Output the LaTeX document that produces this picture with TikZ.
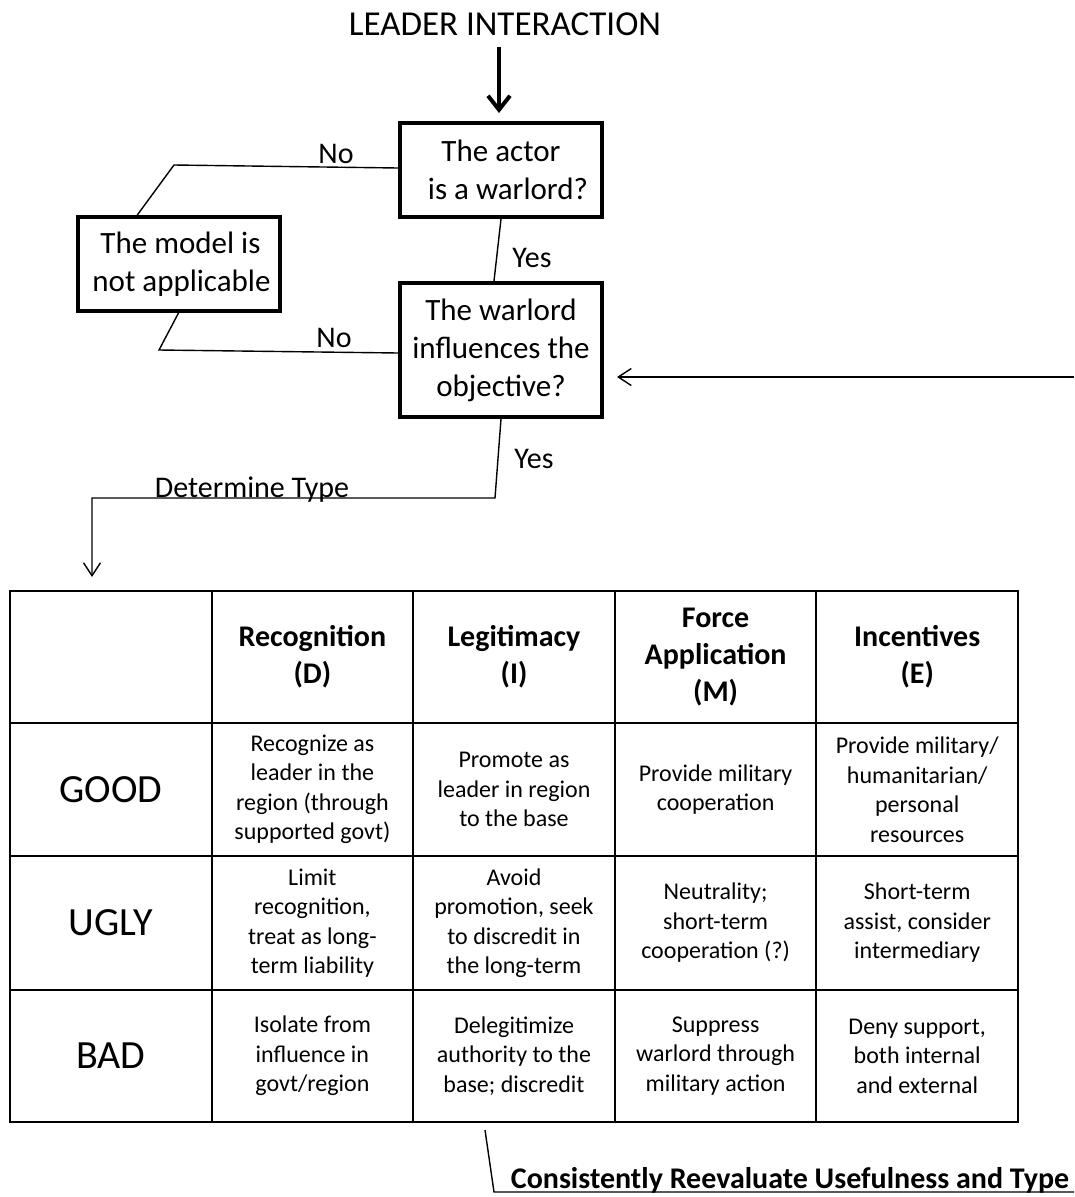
\documentclass[tikz,border=0pt]{standalone}
\usepackage{fontspec}
\setmainfont{Carlito}
\usetikzlibrary{arrows.meta,calc}
\begin{document}
\begin{tikzpicture}[x=1pt,y=-1pt,
  box/.style={draw, line width=4pt, minimum width=202pt, minimum height=94pt, align=center, inner sep=0pt, font=\fontsize{31}{38}\selectfont},
  conn/.style={line width=1.4pt},
  lbl/.style={font=\fontsize{30}{36}\selectfont, inner sep=0pt, anchor=base},
  cellbox/.style={draw, line width=2pt, minimum width=201.6pt, inner sep=0pt, align=center},
  cell/.style={cellbox, font=\fontsize{24}{29.5}\selectfont},
  head/.style={cellbox, minimum height=132pt, font=\bfseries\fontsize{30}{37}\selectfont},
  rowlbl/.style={cellbox, font=\fontsize{40}{48}\selectfont},
  rgood/.style={minimum height=133pt},
  rugly/.style={minimum height=134pt},
  rbad/.style={minimum height=132pt},
  openarrow/.style={-{Straight Barb[length=13pt,width=17pt]}},
  thickarrow/.style={line width=4pt,-{Straight Barb[length=14pt,width=22pt]}}
]
\useasboundingbox (0,0) rectangle (1074,1197);

% title and decision boxes
\node[font=\fontsize{35}{42}\selectfont, inner sep=0pt, anchor=base] (title) at (505,35) {LEADER INTERACTION};
\node[box] (a1) at (501,170) {The actor\\\hspace*{14pt}is a warlord?};
\node[box] (model) at (178.5,264) {\hspace*{4pt}The model is\\\hspace*{6pt}not applicable};
\node[box, minimum height=134pt] (a2) at (501,350) {The warlord\\influences the\\objective?};

% thick arrow from title
\coordinate (tstart) at (499,47);
\draw[thickarrow] (tstart) -- ([yshift=8pt]a1.north -| tstart);

% No branch 1
\coordinate (n1) at (174,165);
\draw[conn] ([yshift=2pt]a1.west) -- (n1) -- ($(model.north west)!0.3!(model.north east)$);
\node[lbl] (no1) at (336,163) {No};

% No branch 2
\coordinate (n2) at (159,350);
\draw[conn] (model.south) -- (n2) -- ([yshift=-3pt]a2.west);
\node[lbl] (no2) at (334,347) {No};

% Yes 1
\draw[conn] (a1.south) -- ([xshift=-7pt]a2.north);
\node[lbl] (yes1) at (532,267) {Yes};

% table
\node[rowlbl, head] (h0) at (110.8,657) {};
\node[head] (h1) at (312.4,657) {Recognition\\(D)};
\node[head] (h2) at (514.0,657) {Legitimacy\\(I)};
\node[head] (h3) at (715.6,657) {Force\\Application\\(M)};
\node[head] (h4) at (917.2,657) {Incentives\\(E)};

\node[rowlbl, rgood] (g0) at (110.8,789.5) {GOOD};
\node[cell, rgood] (g1) at (312.4,789.5) {Recognize as\\leader in the\\region (through\\supported govt)};
\node[cell, rgood] (g2) at (514.0,789.5) {Promote as\\leader in region\\to the base};
\node[cell, rgood] (g3) at (715.6,789.5) {Provide military\\cooperation};
\node[cell, rgood] (g4) at (917.2,789.5) {Provide military/\\humanitarian/\\personal\\resources};

\node[rowlbl, rugly] (u0) at (110.8,923) {UGLY};
\node[cell, rugly] (u1) at (312.4,923) {Limit\\recognition,\\treat as long-\\term liability};
\node[cell, rugly] (u2) at (514.0,923) {Avoid\\promotion, seek\\to discredit in\\the long-term};
\node[cell, rugly] (u3) at (715.6,923) {Neutrality;\\short-term\\cooperation (?)};
\node[cell, rugly] (u4) at (917.2,923) {Short-term\\assist, consider\\intermediary};

\node[rowlbl, rbad] (b0) at (110.8,1056) {BAD};
\node[cell, rbad] (b1) at (312.4,1056) {Isolate from\\influence in\\govt/region};
\node[cell, rbad] (b2) at (514.0,1056) {Delegitimize\\authority to the\\base; discredit};
\node[cell, rbad] (b3) at (715.6,1056) {Suppress\\warlord through\\military action};
\node[cell, rbad] (b4) at (917.2,1056) {Deny support,\\both internal\\and external};

% Yes 2 / Determine Type
\coordinate (d1) at (495,498);
\coordinate (d2) at (92,498);
\draw[conn, openarrow, shorten >=13pt] (a2.south) -- (d1) -- (d2) -- (d2 |- h0.north);
\node[lbl] (yes2) at (534,468) {Yes};
\node[lbl] (dt) at (252,497) {Determine Type};

% feedback arrow
\coordinate (fb) at (1074,377);
\draw[conn, openarrow, shorten >=13pt] (fb) -- (fb -| a2.east);

% reevaluate connector
\coordinate (r1) at (485,1130);
\coordinate (r2) at (494,1192);
\coordinate (r3) at (1074,1192);
\draw[conn] (r1) -- (r2) -- (r3);
\node[lbl, font=\bfseries\fontsize{30}{36}\selectfont] (reeval) at (790,1188) {Consistently Reevaluate Usefulness and Type};
\end{tikzpicture}
\end{document}
